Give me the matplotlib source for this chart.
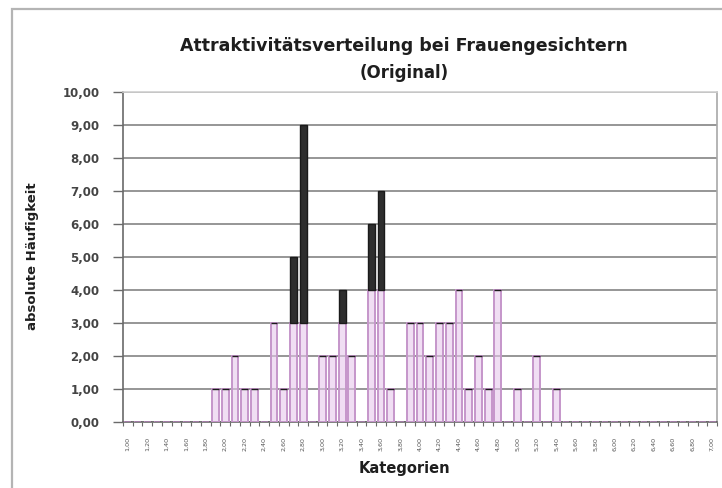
import numpy as np
import matplotlib.pyplot as plt
from matplotlib.patches import Rectangle

# Kategorien 1,00 ... 7,00 (Schrittweite 0,10)
kategorien = [
    "1,00", "1,10", "1,20", "1,30", "1,40", "1,50", "1,60", "1,70", "1,80", "1,90",
    "2,00", "2,10", "2,20", "2,30", "2,40", "2,50", "2,60", "2,70", "2,80", "2,90",
    "3,00", "3,10", "3,20", "3,30", "3,40", "3,50", "3,60", "3,70", "3,80", "3,90",
    "4,00", "4,10", "4,20", "4,30", "4,40", "4,50", "4,60", "4,70", "4,80", "4,90",
    "5,00", "5,10", "5,20", "5,30", "5,40", "5,50", "5,60", "5,70", "5,80", "5,90",
    "6,00", "6,10", "6,20", "6,30", "6,40", "6,50", "6,60", "6,70", "6,80", "6,90",
    "7,00",
]

# absolute Haeufigkeit je Kategorie (untere Reihe)
haeufigkeit = [
    0, 0, 0, 0, 0, 0, 0, 0, 0, 1,
    1, 2, 1, 1, 0, 3, 1, 3, 3, 0,
    2, 2, 3, 2, 0, 4, 4, 1, 0, 3,
    3, 2, 3, 3, 4, 1, 2, 1, 4, 0,
    1, 0, 2, 0, 1, 0, 0, 0, 0, 0,
    0, 0, 0, 0, 0, 0, 0, 0, 0, 0,
    0,
]

# zusaetzliche Haeufigkeit (obere, gestapelte Reihe)
zusatz = [
    0, 0, 0, 0, 0, 0, 0, 0, 0, 0,
    0, 0, 0, 0, 0, 0, 0, 2, 6, 0,
    0, 0, 1, 0, 0, 2, 3, 0, 0, 0,
    0, 0, 0, 0, 0, 0, 0, 0, 0, 0,
    0, 0, 0, 0, 0, 0, 0, 0, 0, 0,
    0, 0, 0, 0, 0, 0, 0, 0, 0, 0,
    0,
]

y_ticks = [0, 1, 2, 3, 4, 5, 6, 7, 8, 9, 10]

fig = plt.figure(figsize=(7.22, 4.88), dpi=100)
fig.patch.set_facecolor("white")

# Rahmen des Diagrammbereichs
fig.patches.append(Rectangle((12 / 722, -0.1), 1.2, 1.1 - 9 / 488,
                             transform=fig.transFigure, fill=False,
                             edgecolor="#b4b4b4", lw=1.6))

ax = fig.add_axes([123 / 722, 1 - 421.7 / 488, 594 / 722, 330 / 488])

x = np.arange(len(kategorien))
ax.bar(x, haeufigkeit, width=0.7, color=(0.90, 0.79, 0.92, 0.6),
       edgecolor="#c596ca", linewidth=1.4, zorder=3)
ax.bar(x, zusatz, bottom=haeufigkeit, width=0.7, color="#2e2e2e",
       edgecolor="#1a1a1a", linewidth=1.0, zorder=3)

ax.set_xlim(-0.5, len(kategorien) - 0.5)
ax.set_ylim(0, 10)

ax.set_yticks(y_ticks)
ax.set_yticklabels([f"{v:.2f}".replace(".", ",") for v in y_ticks],
                   fontsize=8.5, fontweight="bold", color="#444444",
                   family="DejaVu Sans")
ax.yaxis.grid(True, color="#8e8e8e", lw=1.3, zorder=1)
ax.tick_params(axis="y", length=7, width=1, color="#6a6a6a", pad=10)

# Striche zwischen den Kategorien, Beschriftung jede zweite Kategorie
ax.set_xticks(x[::2])
ax.set_xticklabels(kategorien[::2], rotation=90, fontsize=4.6,
                   color="#555555", family="DejaVu Sans")
ax.set_xticks(np.arange(len(kategorien) + 1) - 0.5, minor=True)
ax.tick_params(axis="x", which="major", length=0, pad=11)
ax.tick_params(axis="x", which="minor", length=3, width=0.8, color="#6a6a6a")

for side, col in [("left", "#6a6a6a"), ("bottom", "#6a6a6a"),
                  ("right", "#a8a8a8"), ("top", "#d0d0d0")]:
    ax.spines[side].set_color(col)
    ax.spines[side].set_linewidth(1.2)

fig.text(404 / 722, 1 - 46 / 488, "Attraktivitätsverteilung bei Frauengesichtern",
         ha="center", va="center", fontsize=12.5, fontweight="bold",
         color="#1e1e1e", family="DejaVu Sans")
fig.text(404 / 722, 1 - 73 / 488, "(Original)", ha="center", va="center",
         fontsize=12, fontweight="bold", color="#1e1e1e", family="DejaVu Sans")

fig.text(33 / 722, 1 - 256 / 488, "absolute Häufigkeit", rotation=90,
         ha="center", va="center", fontsize=9.5, fontweight="bold",
         color="#1e1e1e", family="DejaVu Sans")
fig.text(404 / 722, 1 - 468 / 488, "Kategorien", ha="center", va="center",
         fontsize=10.5, fontweight="bold", color="#1e1e1e", family="DejaVu Sans")

fig.savefig("out.png", dpi=100)
